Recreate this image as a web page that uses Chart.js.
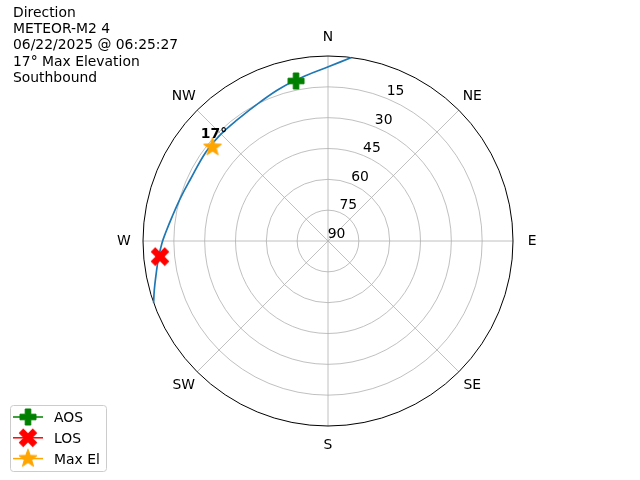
<!DOCTYPE html>
<html>
<head>
<meta charset="utf-8">
<script src="https://cdn.jsdelivr.net/npm/chart.js@4.4.0/dist/chart.umd.min.js"></script>
<style>
body { margin: 0; background: #fff; }
</style>
</head>
<body>
<canvas id="skyChart" width="640" height="480"></canvas>
<script>
const TITLE_LINES = ['Direction', 'METEOR-M2 4', '06/22/2025 @ 06:25:27', '17° Max Elevation', 'Southbound'];
const DIRECTIONS = ['N', 'NE', 'E', 'SE', 'S', 'SW', 'W', 'NW'];
const RING_VALUES = [15, 30, 45, 60, 75, 90];

// pass track, azimuth (deg, clockwise from N) and elevation (deg)
const trackAz = [7.3, 0.1, 352.7, 342.9, 334.2, 323.1, 313.9, 306.1, 293.85, 286.7, 278.7, 272.8, 269.3, 264.3, 258.8, 254.25, 250.5];
const trackEl = [0, 5.25, 8.7, 12.1, 14.7, 16.35, 16.4, 16.5, 16.6, 15.35, 13.2, 10.85, 9.24, 7.13, 4.7, 2.2, 0];

const aosAz = [348.7];
const aosEl = [10.6];
const losAz = [264.7];
const losEl = [7.9];
const maxAz = [309.1];
const maxEl = [17.6];
const MAX_LABEL = '17°';

const LEGEND_LABELS = ['AOS', 'LOS', 'Max El'];
const LEGEND_COLORS = ['green', 'red', 'orange'];

const FONT = '"DejaVu Sans", sans-serif';
const FONT_PX = 13.9;

function toXY(azArr, elArr) {
	return azArr.map((az, i) => {
		let r = (90 - elArr[i]) / 90;
		let rad = az * Math.PI / 180;
		return { x: r * Math.sin(rad), y: r * Math.cos(rad) };
	});
}

function markerCanvas(color, drawFn) {
	const c = document.createElement('canvas');
	c.width = 24;
	c.height = 24;
	const g = c.getContext('2d');
	g.translate(12, 12);
	g.fillStyle = color;
	g.strokeStyle = color;
	g.lineWidth = 1;
	g.lineJoin = 'round';
	drawFn(g);
	return c;
}

function plusShape(g, s, a) {
	g.beginPath();
	g.moveTo(-a, -s); g.lineTo(a, -s); g.lineTo(a, -a); g.lineTo(s, -a);
	g.lineTo(s, a); g.lineTo(a, a); g.lineTo(a, s); g.lineTo(-a, s);
	g.lineTo(-a, a); g.lineTo(-s, a); g.lineTo(-s, -a); g.lineTo(-a, -a);
	g.closePath();
	g.fill();
	g.stroke();
}

function starShape(g, ro, ri) {
	g.beginPath();
	for (let i = 0; i < 10; i++) {
		let r = (i % 2 == 0) ? ro : ri;
		let a = -Math.PI / 2 + i * Math.PI / 5;
		let px = r * Math.cos(a), py = r * Math.sin(a);
		if (i == 0) g.moveTo(px, py); else g.lineTo(px, py);
	}
	g.closePath();
	g.fill();
	g.stroke();
}

const aosMarker = markerCanvas('green', g => plusShape(g, 8, 2.8));
const losMarker = markerCanvas('red', g => { g.rotate(Math.PI / 4); plusShape(g, 9.5, 2.8); });
const maxMarker = markerCanvas('orange', g => starShape(g, 9.5, 3.9));
const LEGEND_MARKERS = [aosMarker, losMarker, maxMarker];

let skyOptions = {
	responsive: false,
	animation: false,
	events: [],
	layout: {
		padding: { left: 143, right: 127, top: 56, bottom: 54 },
	},
	scales: {
		x: { type: 'linear', min: -1, max: 1, display: false },
		y: { type: 'linear', min: -1, max: 1, display: false },
	},
	plugins: {
		legend: { display: false },
		tooltip: { enabled: false },
	},
};

let skyPlugins = [
	{
		id: 'polarGrid',
		beforeDatasetsDraw: (chart) => {
			const { ctx, scales: { x, y } } = chart;
			const cx = x.getPixelForValue(0), cy = y.getPixelForValue(0);
			const R = x.getPixelForValue(1) - cx;
			ctx.save();
			ctx.strokeStyle = '#b0b0b0';
			ctx.lineWidth = 0.8;
			for (const v of RING_VALUES) {
				if (v == 90) continue;
				ctx.beginPath();
				ctx.arc(cx, cy, (90 - v) / 90 * R, 0, Math.PI * 2);
				ctx.stroke();
			}
			for (let i = 0; i < 4; i++) {
				let a = i * Math.PI / 4;
				ctx.beginPath();
				ctx.moveTo(cx + R * Math.sin(a), cy - R * Math.cos(a));
				ctx.lineTo(cx - R * Math.sin(a), cy + R * Math.cos(a));
				ctx.stroke();
			}
			ctx.strokeStyle = '#000';
			ctx.lineWidth = 1;
			ctx.beginPath();
			ctx.arc(cx, cy, R, 0, Math.PI * 2);
			ctx.stroke();

			ctx.fillStyle = '#000';
			ctx.font = FONT_PX + 'px ' + FONT;
			ctx.textAlign = 'center';
			ctx.textBaseline = 'middle';
			DIRECTIONS.forEach((d, i) => {
				let a = i * Math.PI / 4;
				ctx.fillText(d, cx + 1.103 * R * Math.sin(a), cy - 1.103 * R * Math.cos(a));
			});
			// elevation labels along 22.5 deg
			let la = 22.5 * Math.PI / 180;
			for (const v of RING_VALUES) {
				let r = (90 - v) / 90 * R;
				ctx.fillText(String(v), cx + r * Math.sin(la) + 8.5, cy - r * Math.cos(la) - 7);
			}
			ctx.restore();
		},
	},
	{
		id: 'textAndLegend',
		afterDraw: (chart) => {
			const { ctx } = chart;
			ctx.save();
			ctx.fillStyle = '#000';
			ctx.font = FONT_PX + 'px ' + FONT;
			ctx.textAlign = 'left';
			ctx.textBaseline = 'alphabetic';
			TITLE_LINES.forEach((t, i) => ctx.fillText(t, 13, 16.7 + i * 16.3));

			// max elevation label
			const pt = chart.getDatasetMeta(2).data[0];
			ctx.font = 'bold ' + FONT_PX + 'px ' + FONT;
			ctx.textAlign = 'center';
			ctx.fillText(MAX_LABEL, pt.x + 1.5, pt.y - 9.5);

			// legend
			ctx.beginPath();
			ctx.roundRect(10.5, 405.5, 96, 66, 3);
			ctx.fillStyle = 'rgba(255,255,255,0.8)';
			ctx.fill();
			ctx.strokeStyle = '#cccccc';
			ctx.lineWidth = 1;
			ctx.stroke();
			ctx.font = FONT_PX + 'px ' + FONT;
			ctx.textAlign = 'left';
			LEGEND_LABELS.forEach((lab, i) => {
				let ly = 417 + i * 20.8;
				ctx.strokeStyle = LEGEND_COLORS[i];
				ctx.lineWidth = 1.5;
				ctx.beginPath();
				ctx.moveTo(13, ly);
				ctx.lineTo(43, ly);
				ctx.stroke();
				const m = LEGEND_MARKERS[i];
				ctx.drawImage(m, 28 - m.width / 2, ly - m.height / 2);
				ctx.fillStyle = '#000';
				ctx.fillText(lab, 54, ly + 5.3);
			});
			ctx.restore();
		},
	},
];

const skyData = {
	datasets: [
		{
			label: 'AOS',
			data: toXY(aosAz, aosEl),
			pointStyle: aosMarker,
			pointRadius: 9,
			clip: false,
		},
		{
			label: 'LOS',
			data: toXY(losAz, losEl),
			pointStyle: losMarker,
			pointRadius: 9,
			clip: false,
		},
		{
			label: 'Max El',
			data: toXY(maxAz, maxEl),
			pointStyle: maxMarker,
			pointRadius: 9,
			clip: false,
		},
		{
			label: 'Track',
			data: toXY(trackAz, trackEl),
			showLine: true,
			borderColor: '#1f77b4',
			borderWidth: 1.7,
			pointRadius: 0,
			tension: 0.4,
			clip: false,
		},
	],
};

new Chart(document.getElementById('skyChart'), {
	type: 'scatter',
	data: skyData,
	options: skyOptions,
	plugins: skyPlugins,
});
</script>
</body>
</html>
